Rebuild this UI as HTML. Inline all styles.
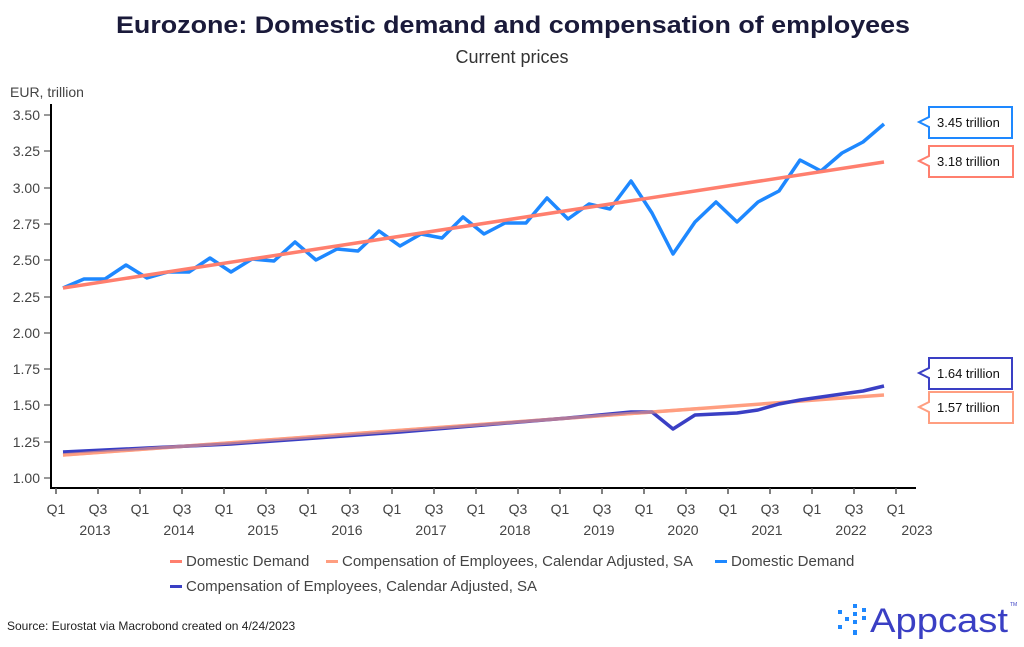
<!DOCTYPE html>
<html><head><meta charset="utf-8"><style>
body{margin:0;background:#fff;}
svg{display:block;font-family:"Liberation Sans",sans-serif;}
</style></head><body>
<svg width="1024" height="647" viewBox="0 0 1024 647">
<text x="513" y="33" text-anchor="middle" font-size="24" font-weight="bold" fill="#1a1a3a" textLength="794" lengthAdjust="spacingAndGlyphs">Eurozone: Domestic demand and compensation of employees</text>
<text x="512" y="63" text-anchor="middle" font-size="18" fill="#333">Current prices</text>
<text x="10" y="97" font-size="14" fill="#444">EUR, trillion</text>
<g font-size="14" fill="#444" text-anchor="end">
<text x="40" y="120">3.50</text><text x="40" y="156">3.25</text><text x="40" y="193">3.00</text><text x="40" y="229">2.75</text><text x="40" y="265">2.50</text><text x="40" y="302">2.25</text><text x="40" y="338">2.00</text><text x="40" y="374">1.75</text><text x="40" y="410">1.50</text><text x="40" y="447">1.25</text><text x="40" y="483">1.00</text>
</g>
<g stroke="#777" stroke-width="1.5">
<line x1="44" x2="51" y1="115" y2="115"/><line x1="44" x2="51" y1="151" y2="151"/><line x1="44" x2="51" y1="188" y2="188"/><line x1="44" x2="51" y1="224" y2="224"/><line x1="44" x2="51" y1="260" y2="260"/><line x1="44" x2="51" y1="297" y2="297"/><line x1="44" x2="51" y1="333" y2="333"/><line x1="44" x2="51" y1="369" y2="369"/><line x1="44" x2="51" y1="405" y2="405"/><line x1="44" x2="51" y1="442" y2="442"/><line x1="44" x2="51" y1="478" y2="478"/>
</g>
<line x1="51" y1="104" x2="51" y2="489" stroke="#000" stroke-width="2"/>
<line x1="50" y1="488" x2="916" y2="488" stroke="#000" stroke-width="2"/>
<g stroke="#555" stroke-width="1.5">
<line x1="56" x2="56" y1="488" y2="494"/><line x1="98" x2="98" y1="488" y2="494"/><line x1="140" x2="140" y1="488" y2="494"/><line x1="182" x2="182" y1="488" y2="494"/><line x1="224" x2="224" y1="488" y2="494"/><line x1="266" x2="266" y1="488" y2="494"/><line x1="308" x2="308" y1="488" y2="494"/><line x1="350" x2="350" y1="488" y2="494"/><line x1="392" x2="392" y1="488" y2="494"/><line x1="434" x2="434" y1="488" y2="494"/><line x1="476" x2="476" y1="488" y2="494"/><line x1="518" x2="518" y1="488" y2="494"/><line x1="560" x2="560" y1="488" y2="494"/><line x1="602" x2="602" y1="488" y2="494"/><line x1="644" x2="644" y1="488" y2="494"/><line x1="686" x2="686" y1="488" y2="494"/><line x1="728" x2="728" y1="488" y2="494"/><line x1="770" x2="770" y1="488" y2="494"/><line x1="812" x2="812" y1="488" y2="494"/><line x1="854" x2="854" y1="488" y2="494"/><line x1="896" x2="896" y1="488" y2="494"/>
</g>
<g font-size="14" fill="#444" text-anchor="middle">
<text x="56" y="514">Q1</text><text x="98" y="514">Q3</text><text x="140" y="514">Q1</text><text x="182" y="514">Q3</text><text x="224" y="514">Q1</text><text x="266" y="514">Q3</text><text x="308" y="514">Q1</text><text x="350" y="514">Q3</text><text x="392" y="514">Q1</text><text x="434" y="514">Q3</text><text x="476" y="514">Q1</text><text x="518" y="514">Q3</text><text x="560" y="514">Q1</text><text x="602" y="514">Q3</text><text x="644" y="514">Q1</text><text x="686" y="514">Q3</text><text x="728" y="514">Q1</text><text x="770" y="514">Q3</text><text x="812" y="514">Q1</text><text x="854" y="514">Q3</text><text x="896" y="514">Q1</text>
<text x="95" y="535">2013</text><text x="179" y="535">2014</text><text x="263" y="535">2015</text><text x="347" y="535">2016</text><text x="431" y="535">2017</text><text x="515" y="535">2018</text><text x="599" y="535">2019</text><text x="683" y="535">2020</text><text x="767" y="535">2021</text><text x="851" y="535">2022</text><text x="917" y="535">2023</text>
</g>
<g fill="none" stroke-width="3.5" stroke-linejoin="round">
<line x1="63" y1="455" x2="884" y2="395" stroke="#FF9E80"/>
<polyline stroke="#3A3FC4" points="63,452 147,448 231,444 316,438 400,432 484,425 568,418 631,412 652,412 673,429 695,415 716,414 737,413 758,410 779,404 800,400 821,397 842,394 863,391 884,386"/>
<line x1="63" y1="455" x2="700" y2="408.5" stroke="#FF9E80" stroke-opacity="0.6"/>
<polyline stroke="#1E88FF" points="63,288 84,279 105,279 126,265 147,278 168,272 189,272 210,258 231,272 252,259 274,261 295,242 316,260 337,249 358,251 379,231 400,246 421,234 442,238 463,217 484,234 505,223 526,223 547,198 568,219 589,204 610,209 631,181 652,213 673,254 695,222 716,202 737,222 758,202 779,191 800,160 821,171 842,153 863,142 884,124"/>
<line x1="63" y1="288" x2="884" y2="162" stroke="#FF7F6E"/>
</g>
<g font-size="13" fill="#111" stroke-width="2">
<path d="M929,107 H1012 V138 H929 V127 L919,122 L929,117 Z" fill="#fff" stroke="#1E88FF"/><text x="937" y="127">3.45 trillion</text>
<path d="M929,146 H1013 V177 H929 V166 L919,161 L929,156 Z" fill="#fff" stroke="#FF7F6E"/><text x="937" y="166">3.18 trillion</text>
<path d="M929,358 H1012 V389 H929 V378 L919,373 L929,368 Z" fill="#fff" stroke="#3A3FC4"/><text x="937" y="378">1.64 trillion</text>
<path d="M929,392 H1013 V423 H929 V412 L919,407 L929,402 Z" fill="#fff" stroke="#FF9E80"/><text x="937" y="412">1.57 trillion</text>
</g>
<g font-size="15" fill="#444">
<rect x="170" y="560" width="12" height="3" fill="#FF7F6E"/><text x="186" y="566">Domestic Demand</text>
<rect x="326" y="560" width="12" height="3" fill="#FF9E80"/><text x="342" y="566">Compensation of Employees, Calendar Adjusted, SA</text>
<rect x="715" y="560" width="12" height="3" fill="#1E88FF"/><text x="731" y="566">Domestic Demand</text>
<rect x="170" y="585" width="12" height="3" fill="#3A3FC4"/><text x="186" y="591">Compensation of Employees, Calendar Adjusted, SA</text>
</g>
<text x="7" y="630" font-size="12" fill="#222">Source: Eurostat via Macrobond created on 4/24/2023</text>
<g fill="#1E88FF">
<rect x="853" y="604" width="4" height="4"/><rect x="853" y="612" width="4" height="4"/><rect x="853" y="620" width="4" height="4"/>
<rect x="862" y="608" width="4" height="4"/><rect x="862" y="616" width="4" height="4"/>
<rect x="838" y="610" width="4" height="4"/><rect x="845" y="617" width="4" height="4"/><rect x="838" y="625" width="4" height="4"/><rect x="853" y="630" width="4" height="5"/>
</g>
<text x="870" y="632" font-size="34" fill="#3A3FC4" textLength="138" lengthAdjust="spacingAndGlyphs">Appcast</text>
<text x="1010" y="606" font-size="5" fill="#3A3FC4">TM</text>
</svg>
</body></html>
